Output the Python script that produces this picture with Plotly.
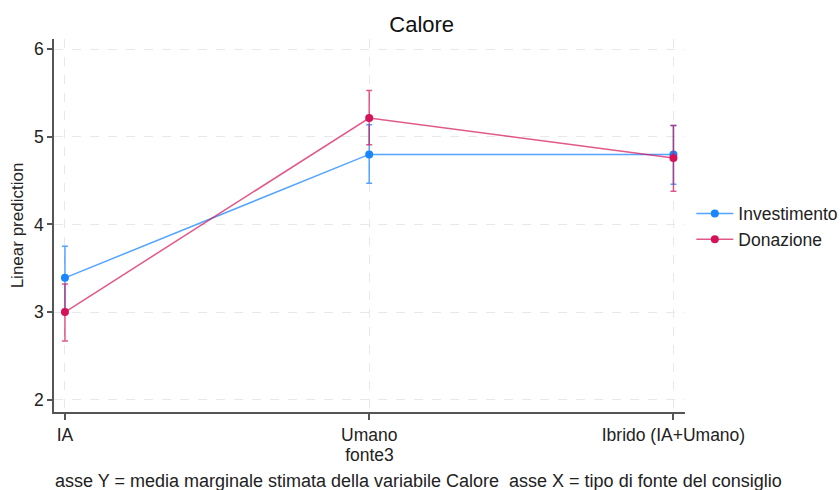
import plotly.graph_objects as go

categories = ["IA", "Umano", "Ibrido (IA+Umano)"]
inv_mean = [3.39, 4.80, 4.80]
inv_upper = [3.75, 5.14, 5.13]
inv_lower = [3.03, 4.47, 4.46]
don_mean = [3.00, 5.215, 4.76]
don_upper = [3.32, 5.53, 5.13]
don_lower = [2.67, 4.91, 4.38]
y_ticks = [2, 3, 4, 5, 6]

xs = list(range(len(categories)))

def series(name, mean, up, lo, color, lcolor):
    return go.Scatter(
        x=xs, y=mean, name=name, mode="lines+markers",
        line=dict(color=lcolor, width=1.5),
        marker=dict(color=color, size=8, symbol="circle"),
        error_y=dict(type="data", symmetric=False,
                     array=[u - m for u, m in zip(up, mean)],
                     arrayminus=[m - l for m, l in zip(mean, lo)],
                     color=lcolor, thickness=1.5, width=3),
    )

fig = go.Figure()
fig.add_trace(series("Investimento", inv_mean, inv_upper, inv_lower,
                     "#1a85ff", "rgba(26,133,255,0.75)"))
fig.add_trace(series("Donazione", don_mean, don_upper, don_lower,
                     "#d41159", "rgba(212,17,89,0.7)"))

fig.update_layout(
    width=840, height=490,
    margin=dict(l=54, r=155, t=39, b=78, autoexpand=False),
    paper_bgcolor="white", plot_bgcolor="white",
    font=dict(family="Liberation Sans, Arial, sans-serif", size=17, color="#222"),
    title=dict(text="Calore", x=0.502, xref="container", xanchor="center",
               y=0.951, yanchor="middle",
               font=dict(size=22, color="#111")),
    showlegend=True,
    legend=dict(x=0.823, xref="container", xanchor="left", y=0.58, yanchor="top",
                font=dict(size=17.5, color="#222"), tracegroupgap=0,
                itemwidth=37, bgcolor="rgba(0,0,0,0)"),
)
fig.update_xaxes(
    range=[-0.036, 2.038], tickmode="array", tickvals=xs, ticktext=categories,
    tickfont=dict(size=17.5),
    showline=True, linecolor="#555", linewidth=1.5,
    ticks="outside", ticklen=6, tickcolor="#555", tickwidth=1.5,
    showgrid=True, gridcolor="#e8e8e8", griddash="dash", gridwidth=1,
    zeroline=False,
    title=dict(text="fonte3", font=dict(size=17.5), standoff=2),
)
fig.update_yaxes(
    range=[1.858, 6.118], tickmode="array", tickvals=y_ticks,
    tickfont=dict(size=17.5),
    showline=True, linecolor="#555", linewidth=1.5,
    ticks="outside", ticklen=5, tickcolor="#555", tickwidth=1.5,
    showgrid=True, gridcolor="#e8e8e8", griddash="dash", gridwidth=1,
    zeroline=False,
    title=dict(text="Linear prediction", font=dict(size=17), standoff=6),
)
fig.add_annotation(
    text="asse Y = media marginale stimata della variabile Calore  asse X = tipo di fonte del consiglio",
    xref="paper", yref="paper", x=-0.001, y=-0.185, xanchor="left", yanchor="middle",
    showarrow=False, font=dict(size=18, color="#222"),
)
fig.write_html("out.html")
